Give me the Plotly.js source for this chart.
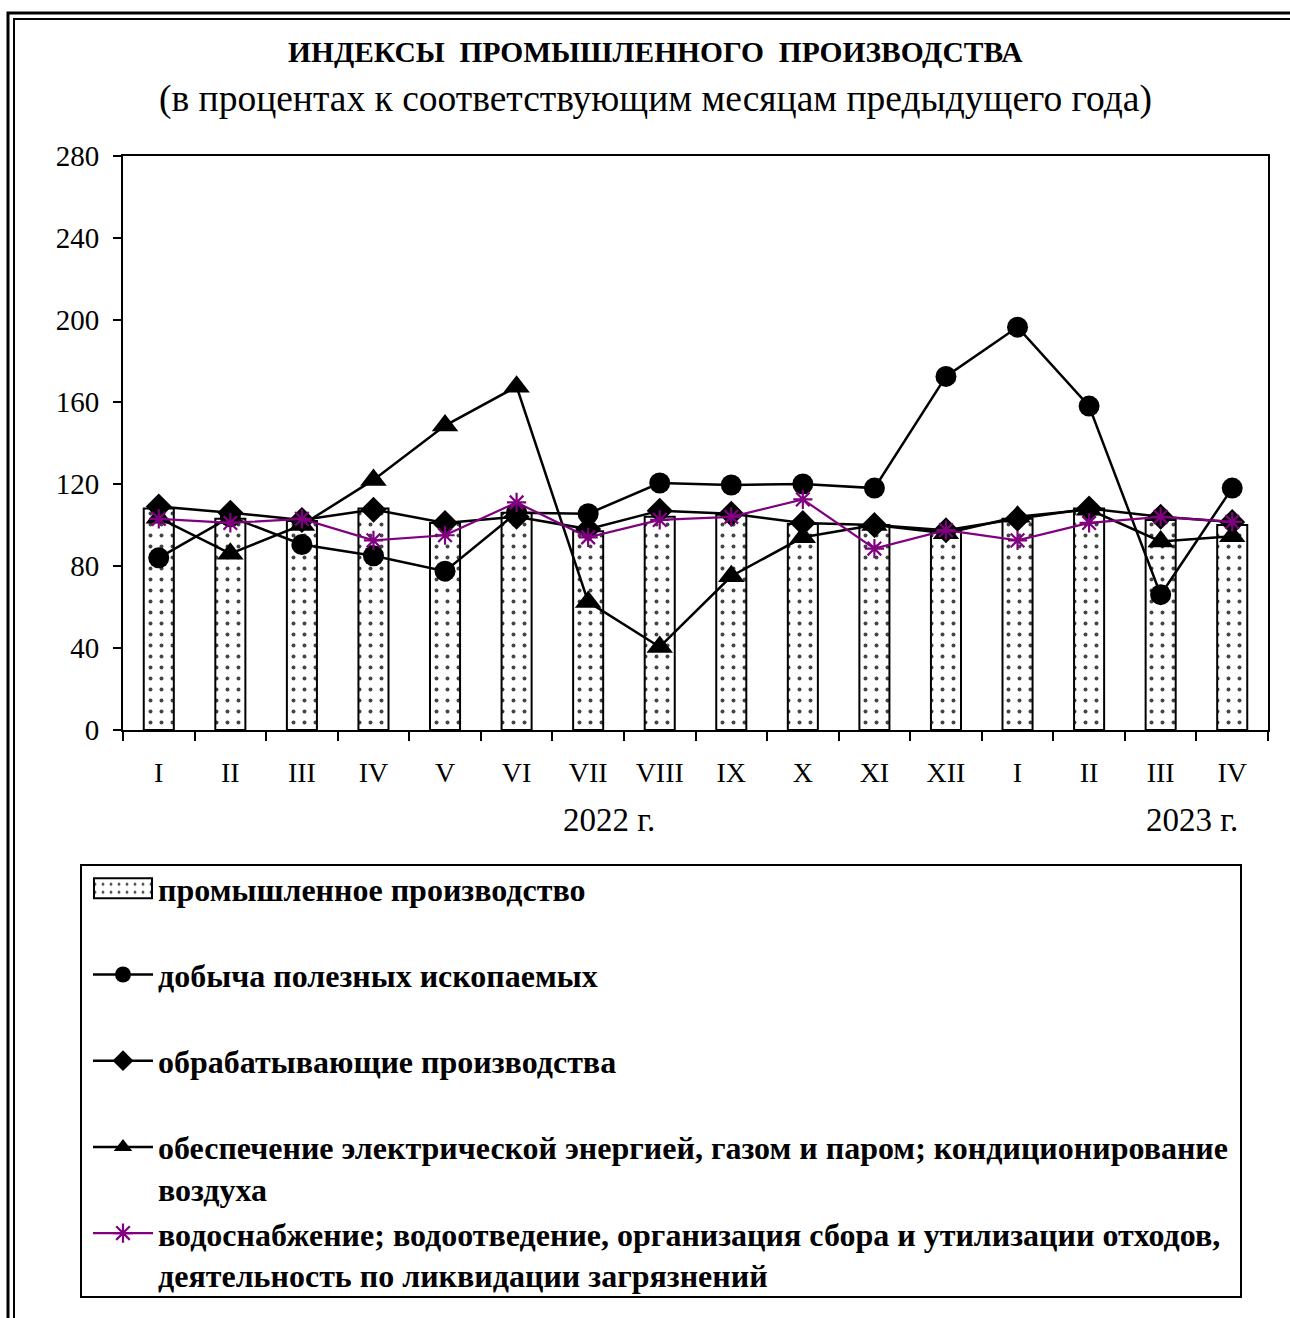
<!DOCTYPE html>
<html>
<head>
<meta charset="utf-8">
<script src="https://cdn.plot.ly/plotly-3.0.1.min.js"></script>
<style>html,body{margin:0;padding:0;background:#fff;}#chart{width:1290px;height:1318px;}</style>
</head>
<body>
<div id="chart"></div>
<script>
// ---- data ----
var periods = ['2022-01','2022-02','2022-03','2022-04','2022-05','2022-06','2022-07','2022-08','2022-09','2022-10','2022-11','2022-12','2023-01','2023-02','2023-03','2023-04'];
var monthLabels = ['I','II','III','IV','V','VI','VII','VIII','IX','X','XI','XII','I','II','III','IV'];
var industrial    = [108, 103, 102, 108, 101, 106, 97, 104, 105, 100.5, 100, 97.5, 103, 108, 102.5, 100];
var mining        = [84, 104, 90.5, 85, 77.5, 106, 105.5, 120.5, 119.5, 120, 118, 172.5, 196.5, 158, 66, 118];
var manufacturing = [109, 106, 102.5, 107.5, 101, 104, 98, 107, 105.5, 101, 100, 97.5, 103, 108, 104, 101.5];
var electricity   = [103.5, 86, 100, 122, 148.5, 167.5, 62.5, 40.5, 75, 94, 100, 96, 104, 107.5, 92, 94.5];
var water         = [103, 101, 103, 92.5, 95, 111, 94, 102.5, 104, 112.5, 88.5, 97.5, 92.5, 101, 104, 101.5];
var yearLabels = ['2022 г.', '2023 г.'];
var seriesNames = [
  'промышленное производство<br> ',
  'добыча полезных ископаемых<br> ',
  'обрабатывающие производства<br> ',
  'обеспечение электрической энергией, газом и паром; кондиционирование<br>воздуха',
  'водоснабжение; водоотведение, организация сбора и утилизации отходов,<br>деятельность по ликвидации загрязнений'
];

// ---- geometry helpers (pixel -> paper) ----
var W = 1290, H = 1318, L = 123, R = 22, T = 156, B = 588;
var pw = W - L - R, ph = H - T - B;
function px(x){ return (x - L) / pw; }
function py(y){ return (H - B - y) / ph; }

var FONT = 'Liberation Serif, Times New Roman, serif';

var traces = [
  {type:'bar', x:periods, y:industrial, name:seriesNames[0], width:0.42,
   marker:{color:'#fff', line:{color:'#000', width:2},
           pattern:{shape:'.', fgcolor:'#444', bgcolor:'#fff', size:11, solidity:0.1}},
   legendgroup:'g1'},
  {type:'scatter', mode:'lines+markers', x:periods, y:mining, name:seriesNames[1],
   line:{color:'#000', width:2.5}, marker:{symbol:'circle', size:21, color:'#000'}, legendgroup:'g2'},
  {type:'scatter', mode:'lines+markers', x:periods, y:manufacturing, name:seriesNames[2],
   line:{color:'#000', width:2.5}, marker:{symbol:'diamond', size:20, color:'#000'}, legendgroup:'g3'},
  {type:'scatter', mode:'lines+markers', x:periods, y:electricity, name:seriesNames[3],
   line:{color:'#000', width:2.5}, marker:{symbol:'triangle-up', size:23, color:'#000'}, legendgroup:'g4'},
  {type:'scatter', mode:'lines+markers', x:periods, y:water, name:seriesNames[4],
   line:{color:'#800080', width:2.2}, marker:{symbol:'asterisk-open', size:16, color:'#800080', line:{color:'#800080', width:2.2}}, legendgroup:'g5'}
];

var layout = {
  width: W, height: H,
  margin: {l:L, r:R, t:T, b:B, pad:0},
  paper_bgcolor:'#fff', plot_bgcolor:'#fff',
  font: {family: FONT, color:'#000', size:29},
  showlegend: true,
  xaxis: {
    type:'category', tickmode:'array', tickvals:periods, ticktext:monthLabels,
    tickson:'boundaries', ticks:'outside', ticklen:9, tickwidth:2, tickcolor:'#000',
    showline:true, linecolor:'#000', linewidth:2, mirror:true,
    showgrid:false, zeroline:false, tickfont:{size:28, family:FONT}, ticklabelstandoff: 16,
    range:[-0.5, 15.5], fixedrange:true
  },
  yaxis: {
    range:[0,280], dtick:40, tick0:0, ticks:'outside', ticklen:8, tickwidth:2, tickcolor:'#000',
    showline:true, linecolor:'#000', linewidth:2, mirror:true,
    showgrid:false, zeroline:false, tickfont:{size:29, family:FONT}, ticklabelstandoff: 8, fixedrange:true
  },
  legend: {
    x: px(88), y: py(861), xanchor:'left', yanchor:'top',
    bgcolor:'rgba(0,0,0,0)', borderwidth:0,
    font:{family:FONT, size:32, color:'#000', weight:'bold'},
    itemwidth:60, valign:'top', traceorder:'grouped', tracegroupgap:0,
    itemclick:false, itemdoubleclick:false
  },
  annotations: [
    {xref:'paper', yref:'paper', x:px(655), y:py(52), xanchor:'center', yanchor:'middle', showarrow:false,
     text:'<b>ИНДЕКСЫ  ПРОМЫШЛЕННОГО  ПРОИЗВОДСТВА</b>', font:{size:29.5, family:FONT}},
    {xref:'paper', yref:'paper', x:px(655), y:py(99), xanchor:'center', yanchor:'middle', showarrow:false,
     text:'(в процентах к соответствующим месяцам предыдущего года)', font:{size:37.5, family:FONT}},
    {xref:'paper', yref:'paper', x:px(609), y:py(820), xanchor:'center', yanchor:'middle', showarrow:false,
     text:yearLabels[0], font:{size:33, family:FONT}},
    {xref:'paper', yref:'paper', x:px(1192), y:py(820), xanchor:'center', yanchor:'middle', showarrow:false,
     text:yearLabels[1], font:{size:33, family:FONT}}
  ],
  shapes: [
    {type:'rect', xref:'paper', yref:'paper', x0:px(8), x1:px(1310), y0:py(13), y1:py(1340), line:{color:'#000', width:3}, layer:'below'},
    {type:'rect', xref:'paper', yref:'paper', x0:px(14), x1:px(1310), y0:py(19), y1:py(1340), line:{color:'#000', width:2}, layer:'below'},
    {type:'rect', xref:'paper', yref:'paper', x0:px(81), x1:px(1241), y0:py(865), y1:py(1297), line:{color:'#000', width:2}, layer:'below'}
  ]
};

Plotly.newPlot('chart', traces, layout, {displayModeBar:false, staticPlot:true}).then(function(gd){
  // widen the bar legend swatch to a rectangle like the original
  var first = gd.querySelector('.legend .traces .legendpoints path');
  if (first) { first.setAttribute('d', 'M-29,10H29V-10H-29Z'); }
});
</script>
</body>
</html>
